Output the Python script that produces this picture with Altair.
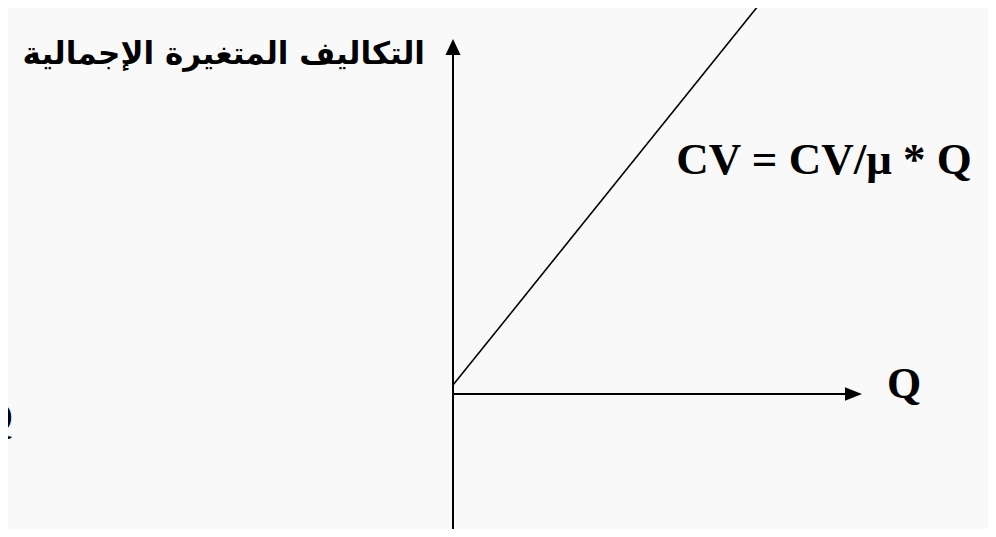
import altair as alt
import pandas as pd

# Schematic: origin of the two axes is (0, 0); units follow the reference picture
axis_x0 = [0, 0]
axis_y0 = [-145, 0]
axis_x1 = [0, 395]
axis_y1 = [345, 0]

cv_line_x0 = [0]
cv_line_y0 = [9]
cv_line_x1 = [305]
cv_line_y1 = [388]

arrow_up_x = [0]
arrow_up_y = [355]
arrow_right_x = [409]
arrow_right_y = [0]

ar_label = ["التكاليف المتغيرة الإجمالية"]
ar_label_x = [-28]
ar_label_y = [330]

cv_label = ["CV = CV/μ * Q"]
cv_label_x = [371]
cv_label_y = [220]

q_labels = ["Q", "Q"]
q_labels_x = [451, -457]
q_labels_y = [-4, -38]

X = alt.Scale(domain=[-445, 535], nice=False, zero=False)
Y = alt.Scale(domain=[-135, 386], nice=False, zero=False)

axes_df = pd.DataFrame({"x": axis_x0, "y": axis_y0, "x2": axis_x1, "y2": axis_y1})
cv_df = pd.DataFrame({"x": cv_line_x0, "y": cv_line_y0, "x2": cv_line_x1, "y2": cv_line_y1})
up_df = pd.DataFrame({"x": arrow_up_x, "y": arrow_up_y})
right_df = pd.DataFrame({"x": arrow_right_x, "y": arrow_right_y})
ar_df = pd.DataFrame({"t": ar_label, "x": ar_label_x, "y": ar_label_y})
cvl_df = pd.DataFrame({"t": cv_label, "x": cv_label_x, "y": cv_label_y})
q_df = pd.DataFrame({"t": q_labels, "x": q_labels_x, "y": q_labels_y})


def enc_seg(ch):
    return ch.encode(
        x=alt.X("x:Q", scale=X, axis=None),
        y=alt.Y("y:Q", scale=Y, axis=None),
        x2="x2:Q",
        y2="y2:Q",
    )


axes = enc_seg(alt.Chart(axes_df).mark_rule(color="black", strokeWidth=2))
cv = enc_seg(alt.Chart(cv_df).mark_rule(color="black", strokeWidth=1.6))

up = alt.Chart(up_df).mark_point(
    shape="M0,-1L-0.94,1L0.94,1Z", size=256, filled=True, color="black", opacity=1, yOffset=8
).encode(x=alt.X("x:Q", scale=X, axis=None), y=alt.Y("y:Q", scale=Y, axis=None))

right = alt.Chart(right_df).mark_point(
    shape="M1,0L-1,-0.8L-1,0.8Z", size=289, filled=True, color="black", opacity=1, xOffset=-8.5
).encode(x=alt.X("x:Q", scale=X, axis=None), y=alt.Y("y:Q", scale=Y, axis=None))

ar = alt.Chart(ar_df).mark_text(
    font="DejaVu Sans", fontWeight="bold", fontSize=31, align="right", baseline="alphabetic", color="black"
).encode(x=alt.X("x:Q", scale=X, axis=None), y=alt.Y("y:Q", scale=Y, axis=None), text="t:N")

cvl = alt.Chart(cvl_df).mark_text(
    font="Liberation Serif", fontWeight="bold", fontSize=45, align="center", baseline="alphabetic", color="black"
).encode(x=alt.X("x:Q", scale=X, axis=None), y=alt.Y("y:Q", scale=Y, axis=None), text="t:N")

ql = alt.Chart(q_df).mark_text(
    font="Liberation Serif", fontWeight="bold", fontSize=44, align="center", baseline="alphabetic", color="black"
).encode(x=alt.X("x:Q", scale=X, axis=None), y=alt.Y("y:Q", scale=Y, axis=None), text="t:N")

chart = (
    alt.layer(axes, cv, up, right, ar, cvl, ql)
    .properties(width=980, height=521, padding=0, autosize=alt.AutoSizeParams(type="none"), background="#f9f9f9")
    .configure_view(stroke=None)
)

chart.save("out.html", embed_options={"renderer": "svg", "actions": False})
